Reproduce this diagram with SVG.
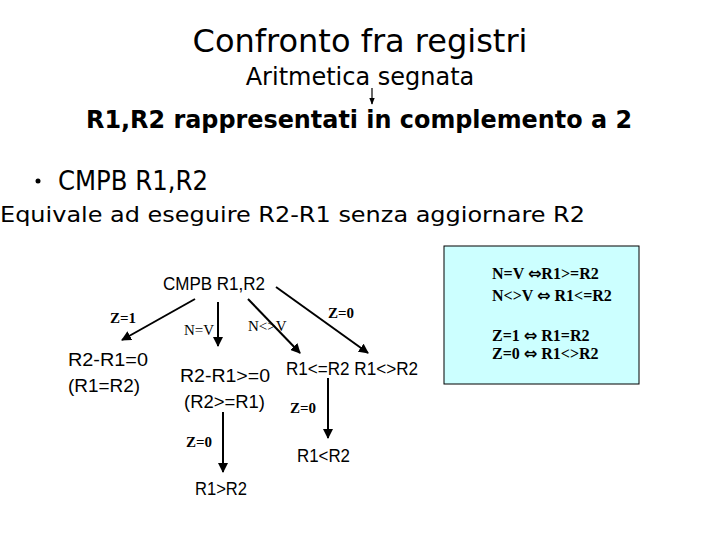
<svg xmlns="http://www.w3.org/2000/svg" width="720" height="540" viewBox="0 0 720 540">
<style>
.h{font-family:"DejaVu Sans","Liberation Sans",sans-serif;fill:#000}
.s{font-family:"Liberation Sans",Arial,sans-serif;fill:#000;font-size:19px}
.t{font-family:"Liberation Serif","Times New Roman",serif;fill:#000;font-size:15px}
.l{font-family:"Liberation Serif","Times New Roman",serif;fill:#000;font-size:16px;font-weight:bold}
.b{font-weight:bold}
.eq{font-family:"DejaVu Sans",sans-serif;font-weight:bold;font-size:16px}
.c{stroke:#000;stroke-width:2;fill:none;marker-end:url(#ah)}
</style>
<defs>
<marker id="ah" viewBox="0 0 10 10" refX="9" refY="5" markerWidth="5" markerHeight="5" orient="auto" markerUnits="strokeWidth">
<path d="M0,0 L10,5 L0,10 z" fill="#000"/>
</marker>
<marker id="ahs" viewBox="0 0 10 10" refX="9" refY="5" markerWidth="6" markerHeight="6" orient="auto" markerUnits="strokeWidth">
<path d="M0,1 L10,5 L0,9 z" fill="#000"/>
</marker>
</defs>
<rect width="720" height="540" fill="#fff"/>
<g id="title">
<text class="h" x="360" y="52" font-size="32" text-anchor="middle">Confronto fra registri</text>
<text class="h" x="360" y="85" font-size="24" text-anchor="middle">Aritmetica segnata</text>
<line x1="372" y1="88" x2="372" y2="104" stroke="#000" stroke-width="1.2" marker-end="url(#ahs)"/>
<text class="h" x="359" y="128" font-size="24" font-weight="bold" text-anchor="middle" textLength="546" lengthAdjust="spacingAndGlyphs">R1,R2 rappresentati in complemento a 2</text>
</g>
<g id="intro">
<circle cx="38" cy="181" r="2.5" fill="#000"/>
<text class="h" x="58" y="190" font-size="26" textLength="150" lengthAdjust="spacingAndGlyphs">CMPB R1,R2</text>
<text class="h" x="0" y="222" font-size="22" textLength="585" lengthAdjust="spacingAndGlyphs">Equivale ad eseguire R2-R1 senza aggiornare R2</text>
</g>
<g id="connectors">
<line class="c" x1="195" y1="299" x2="122" y2="340"/>
<line class="c" x1="218" y1="302" x2="218" y2="346"/>
<line class="c" x1="248" y1="299" x2="300" y2="353"/>
<line class="c" x1="276" y1="287" x2="368" y2="353"/>
<line class="c" x1="328" y1="378" x2="328" y2="438"/>
<line class="c" x1="223" y1="412" x2="223" y2="472"/>
<text class="t b" x="110" y="323">Z=1</text>
<text class="t" x="184" y="335">N=V</text>
<text class="t" x="248" y="331">N&lt;&gt;V</text>
<text class="t b" x="328" y="318">Z=0</text>
<text class="t b" x="290" y="413">Z=0</text>
<text class="t b" x="186" y="447">Z=0</text>
</g>
<g id="n-root"><text class="s" x="163" y="290" font-size="17" textLength="102" lengthAdjust="spacingAndGlyphs">CMPB R1,R2</text></g>
<g id="n-eq">
<text class="s" x="68" y="366" textLength="80" lengthAdjust="spacingAndGlyphs">R2-R1=0</text>
<text class="s" x="68" y="392" textLength="72" lengthAdjust="spacingAndGlyphs">(R1=R2)</text>
</g>
<g id="n-ge">
<text class="s" x="180" y="382" textLength="90" lengthAdjust="spacingAndGlyphs">R2-R1&gt;=0</text>
<text class="s" x="184" y="408" textLength="81" lengthAdjust="spacingAndGlyphs">(R2&gt;=R1)</text>
</g>
<g id="n-le"><text class="s" x="286" y="375" textLength="132" lengthAdjust="spacingAndGlyphs">R1&lt;=R2  R1&lt;&gt;R2</text></g>
<g id="n-lt"><text class="s" x="297" y="462" textLength="53" lengthAdjust="spacingAndGlyphs">R1&lt;R2</text></g>
<g id="n-gt"><text class="s" x="195" y="495" textLength="52" lengthAdjust="spacingAndGlyphs">R1&gt;R2</text></g>
<g id="legend">
<rect x="444" y="246" width="195" height="138" fill="#ccffff" stroke="#000" stroke-width="1"/>
<text class="l" x="492" y="279">N=V <tspan class="eq">⇔</tspan>R1&gt;=R2</text>
<text class="l" x="492" y="301">N&lt;&gt;V <tspan class="eq">⇔</tspan> R1&lt;=R2</text>
<text class="l" x="492" y="341">Z=1 <tspan class="eq">⇔</tspan> R1=R2</text>
<text class="l" x="492" y="359">Z=0 <tspan class="eq">⇔</tspan> R1&lt;&gt;R2</text>
</g>
</svg>
